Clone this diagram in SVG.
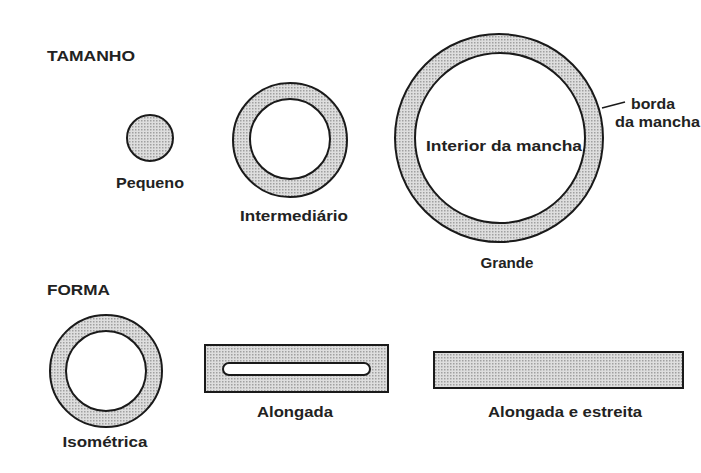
<svg xmlns="http://www.w3.org/2000/svg" width="701" height="473" viewBox="0 0 701 473">
<style>
.t{font-family:"Liberation Sans",Arial,sans-serif;font-weight:bold;font-size:15px;fill:#222}
.m{text-anchor:middle}
.s{fill:url(#dots);stroke:#1a1a1a;stroke-width:2}
.w{fill:#fff;stroke:#1a1a1a;stroke-width:2}
</style>
<defs>
<pattern id="dots" width="3" height="3" patternUnits="userSpaceOnUse">
<rect width="3" height="3" fill="#dedede"/>
<rect width="1.5" height="1.5" fill="#a0a0a0"/>
</pattern>
</defs>
<rect width="701" height="473" fill="#fff"/>
<g id="tamanho"><text class="t" x="47" y="61" textLength="88" lengthAdjust="spacingAndGlyphs">TAMANHO</text></g>
<g id="pequeno">
<circle class="s" cx="150" cy="138" r="23"/>
<text class="t m" x="150" y="188" textLength="68" lengthAdjust="spacingAndGlyphs">Pequeno</text>
</g>
<g id="intermediario">
<circle class="s" cx="290" cy="140" r="57"/>
<circle class="w" cx="290" cy="139" r="40"/>
<text class="t m" x="294" y="221" textLength="108" lengthAdjust="spacingAndGlyphs">Intermediário</text>
</g>
<g id="grande">
<circle class="s" cx="499" cy="138" r="104"/>
<circle class="w" cx="500" cy="138" r="85"/>
<text class="t m" x="504" y="151" textLength="156" lengthAdjust="spacingAndGlyphs">Interior da mancha</text>
<text class="t m" x="507" y="268" textLength="53" lengthAdjust="spacingAndGlyphs">Grande</text>
</g>
<g id="borda">
<text class="t" x="631" y="109" textLength="44" lengthAdjust="spacingAndGlyphs">borda</text>
<text class="t" x="615" y="127" textLength="85" lengthAdjust="spacingAndGlyphs">da mancha</text>
</g>
<g id="connectors">
<line x1="602" y1="108" x2="625" y2="102" stroke="#1a1a1a" stroke-width="1.5"/>
</g>
<g id="forma"><text class="t" x="47" y="295" textLength="63" lengthAdjust="spacingAndGlyphs">FORMA</text></g>
<g id="isometrica">
<circle class="s" cx="106" cy="371" r="56"/>
<circle class="w" cx="106" cy="371" r="40"/>
<text class="t m" x="105" y="447" textLength="85" lengthAdjust="spacingAndGlyphs">Isométrica</text>
</g>
<g id="alongada">
<rect class="s" x="205" y="345" width="183" height="47"/>
<rect class="w" x="223" y="363" width="147" height="12" rx="6"/>
<text class="t m" x="295" y="417" textLength="76" lengthAdjust="spacingAndGlyphs">Alongada</text>
</g>
<g id="alongada-estreita">
<rect class="s" x="434" y="352" width="249" height="36"/>
<text class="t m" x="565" y="417" textLength="154" lengthAdjust="spacingAndGlyphs">Alongada e estreita</text>
</g>
</svg>
